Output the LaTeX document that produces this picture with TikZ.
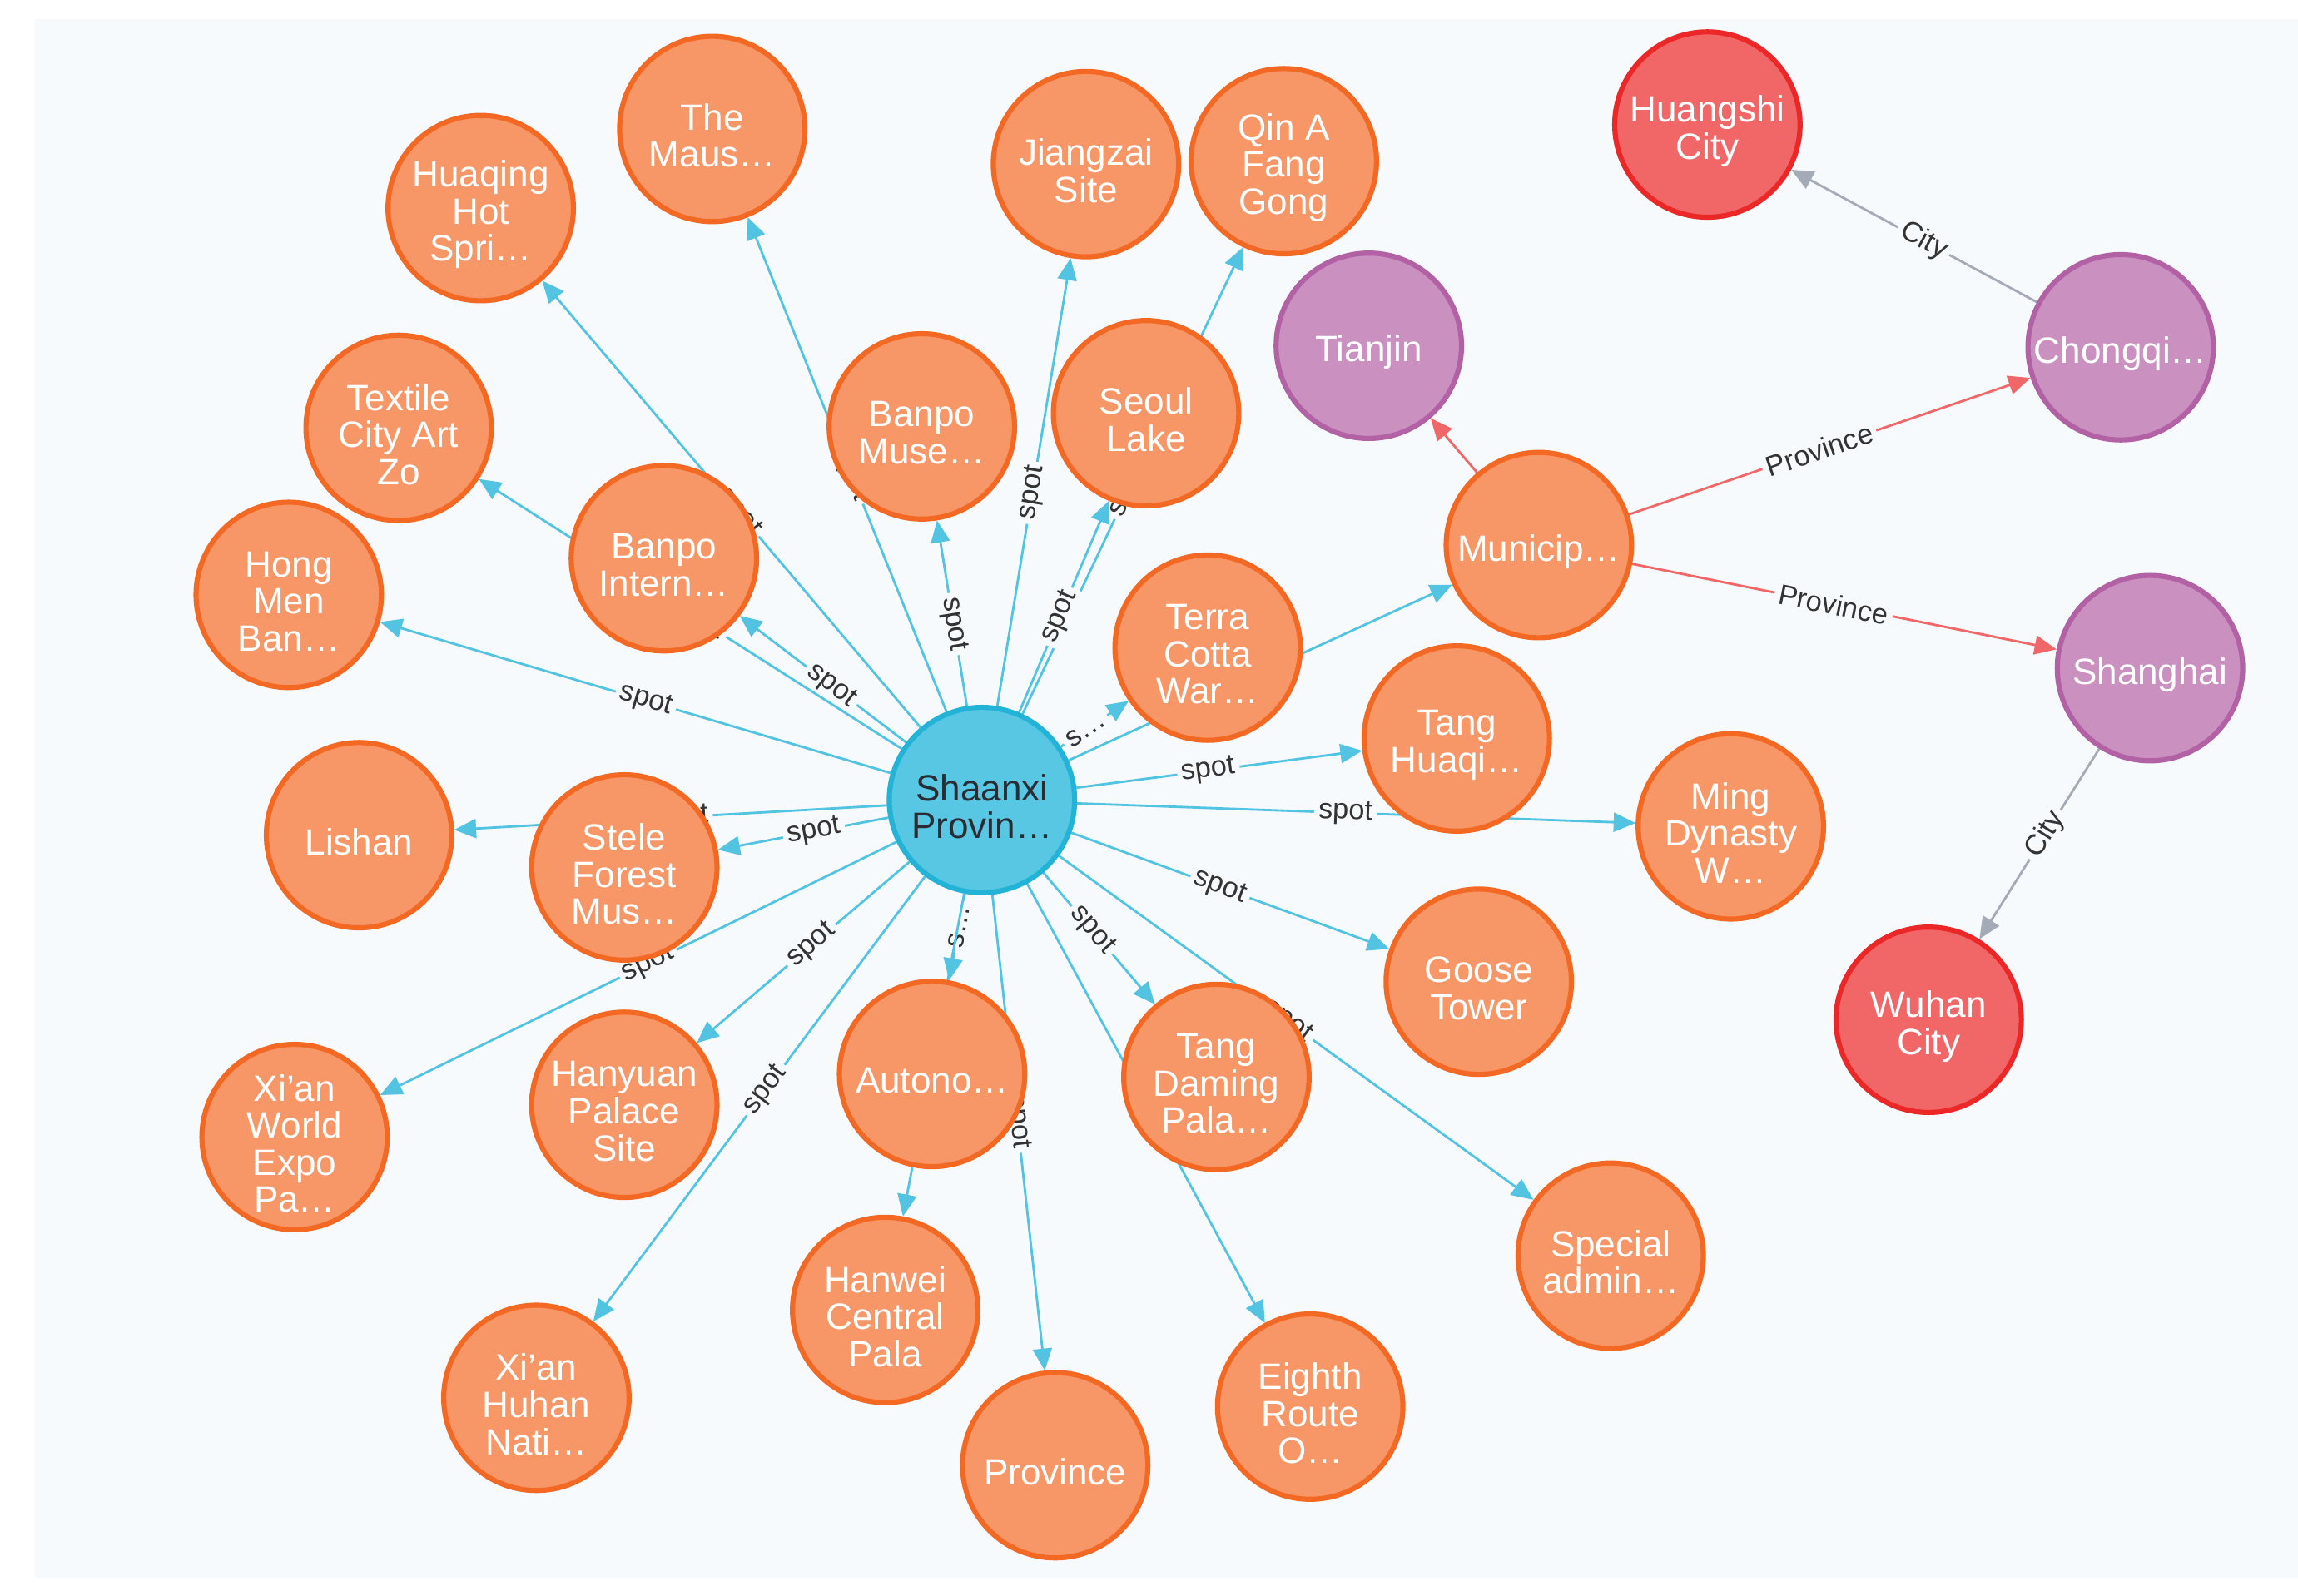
\documentclass[tikz,border=0pt]{standalone}
\usepackage{fontspec}
\setmainfont{Liberation Sans}
\usetikzlibrary{arrows.meta}
\definecolor{bgc}{HTML}{F7FAFD}
\definecolor{orf}{HTML}{F79767}
\definecolor{orb}{HTML}{F36924}
\definecolor{blf}{HTML}{57C7E3}
\definecolor{blb}{HTML}{23B3D7}
\definecolor{puf}{HTML}{C990C0}
\definecolor{pub}{HTML}{B261A5}
\definecolor{rdf}{HTML}{F16667}
\definecolor{rdb}{HTML}{EB2728}
\definecolor{spotc}{HTML}{52C3E0}
\definecolor{provc}{HTML}{F16667}
\definecolor{cityc}{HTML}{A5ABB6}
\definecolor{lblc}{HTML}{333333}
\definecolor{darktext}{HTML}{2A2C34}
\pgfdeclarelayer{bglayer}
\pgfdeclarelayer{edgelayer}
\pgfsetlayers{bglayer,edgelayer,main}
% graph node with text lowered slightly inside the circle
\newcommand\gnd[4]{\node[#1, label={[ntext]center:{#4}}] (#2) at (#3) {};}
% edge whose label sits at the middle of the shaft (arrow head excluded)
\newcommand\gedge[4]{%
  \pgfpointdiff{\pgfpointanchor{#2}{center}}{\pgfpointanchor{#3}{center}}%
  \pgfgetlastxy{\myex}{\myey}%
  \pgfmathsetmacro\mylen{veclen(\myex,\myey)}%
  \pgfmathsetmacro\mypos{0.5-7.5/(\mylen-130)}%
  \draw[#1] (#2) -- node[lbl,pos=\mypos]{#4} (#3);}
\begin{document}
\begin{tikzpicture}[x=1pt,y=-1pt,
  gnode/.style={circle, minimum size=126.5pt, inner sep=0pt, line width=3.5pt},
  ntext/.style={align=center, font=\fontsize{25}{25.3}\selectfont, text=white,
    inner sep=0pt, yshift=-4.5pt},
  onode/.style={gnode, fill=orf, draw=orb},
  bnode/.style={gnode, fill=blf, draw=blb},
  pnode/.style={gnode, fill=puf, draw=pub},
  rnode/.style={gnode, fill=rdf, draw=rdb},
  edgebase/.style={line width=1.6pt, -{Triangle[length=15pt,width=13pt]}},
  spotedge/.style={edgebase, draw=spotc},
  provedge/.style={edgebase, draw=provc},
  cityedge/.style={edgebase, draw=cityc},
  lbl/.style={font=\fontsize{19.5}{19.5}\selectfont, text=lblc, fill=bgc,
    inner sep=3pt, sloped}
]
\useasboundingbox (0,0) rectangle (1568,1089);
\begin{pgfonlayer}{bglayer}
  \fill[white] (0,0) rectangle (1568,1089);
  \fill[bgc] (24,13) rectangle (1568,1077);
\end{pgfonlayer}

% nodes
\node[bnode, label={[ntext,text=darktext]center:{Shaanxi\\Provin…}}] (sx) at (670,546) {};
\gnd{onode}{maus}{486,88}{The\\Maus…}
\gnd{onode}{huaqing}{328,142}{Huaqing\\Hot\\Spri…}
\gnd{onode}{jiangzai}{741,112}{Jiangzai\\Site}
\gnd{onode}{qin}{876,110}{Qin A\\Fang\\Gong}
\gnd{onode}{textile}{272,292}{Textile\\City Art\\Zo}
\gnd{onode}{banpomuse}{629,291}{Banpo\\Muse…}
\gnd{onode}{seoul}{782,282}{Seoul\\Lake}
\gnd{pnode}{tianjin}{934,236}{Tianjin}
\gnd{rnode}{huangshi}{1165,85}{Huangshi\\City}
\gnd{pnode}{chongqi}{1447,237}{Chongqi…}
\gnd{onode}{hongmen}{197,406}{Hong\\Men\\Ban…}
\gnd{onode}{banpointern}{453,381}{Banpo\\Intern…}
\gnd{onode}{terra}{824,442}{Terra\\Cotta\\War…}
\gnd{onode}{municip}{1050,372}{Municip…}
\gnd{pnode}{shanghai}{1467,456}{Shanghai}
\gnd{onode}{tanghuaqi}{994,504}{Tang\\Huaqi…}
\gnd{onode}{ming}{1181,564}{Ming\\Dynasty\\W…}
\gnd{onode}{lishan}{245,570}{Lishan}
\gnd{onode}{stele}{426,592}{Stele\\Forest\\Mus…}
\gnd{onode}{goose}{1009,670}{Goose\\Tower}
\gnd{rnode}{wuhan}{1316,696}{Wuhan\\City}
\gnd{onode}{xianworld}{201,776}{Xi'an\\World\\Expo\\Pa…}
\gnd{onode}{hanyuan}{426,754}{Hanyuan\\Palace\\Site}
\gnd{onode}{autono}{636,733}{Autono…}
\gnd{onode}{tangdaming}{830,735}{Tang\\Daming\\Pala…}
\gnd{onode}{special}{1099,857}{Special\\admin…}
\gnd{onode}{hanwei}{604,894}{Hanwei\\Central\\Pala}
\gnd{onode}{xianhuhan}{366,954}{Xi'an\\Huhan\\Nati…}
\gnd{onode}{province}{720,1000}{Province}
\gnd{onode}{eighth}{894,960}{Eighth\\Route\\O…}

% edges
\begin{pgfonlayer}{edgelayer}
  \gedge{spotedge}{sx}{maus}{spot}
  \gedge{spotedge}{sx}{huaqing}{spot}
  \gedge{spotedge}{sx}{jiangzai}{spot}
  \gedge{spotedge}{sx}{qin}{spot}
  \gedge{spotedge}{sx}{seoul}{spot}
  \gedge{spotedge}{sx}{banpomuse}{spot}
  \gedge{spotedge}{sx}{banpointern}{spot}
  \gedge{spotedge}{sx}{textile}{spot}
  \gedge{spotedge}{sx}{hongmen}{spot}
  \gedge{spotedge}{sx}{lishan}{spot}
  \gedge{spotedge}{sx}{stele}{spot}
  \gedge{spotedge}{sx}{xianworld}{spot}
  \gedge{spotedge}{sx}{hanyuan}{spot}
  \gedge{spotedge}{sx}{xianhuhan}{spot}
  \gedge{spotedge}{sx}{autono}{s…}
  \gedge{spotedge}{sx}{hanwei}{spot}
  \gedge{spotedge}{sx}{province}{spot}
  \gedge{spotedge}{sx}{tangdaming}{spot}
  \gedge{spotedge}{sx}{eighth}{spot}
  \gedge{spotedge}{sx}{special}{spot}
  \gedge{spotedge}{sx}{goose}{spot}
  \gedge{spotedge}{sx}{ming}{spot}
  \gedge{spotedge}{sx}{tanghuaqi}{spot}
  \gedge{spotedge}{sx}{terra}{s…}
  \gedge{spotedge}{sx}{municip}{spot}
  \draw[provedge] (municip) -- (tianjin);
  \gedge{provedge}{municip}{chongqi}{Province}
  \gedge{provedge}{municip}{shanghai}{Province}
  \gedge{cityedge}{chongqi}{huangshi}{City}
  \gedge{cityedge}{shanghai}{wuhan}{City}
\end{pgfonlayer}
\end{tikzpicture}
\end{document}
